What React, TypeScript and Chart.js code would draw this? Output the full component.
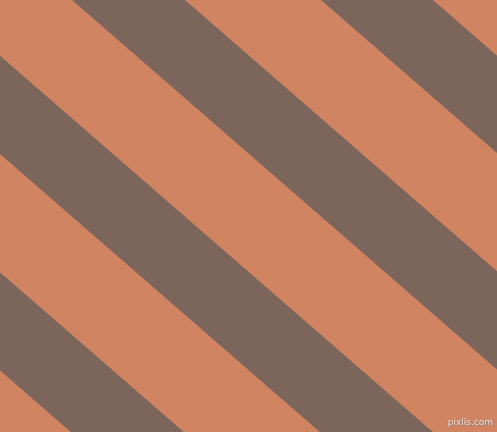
import { useEffect, useRef } from "react";
import Chart from "chart.js/auto";

// where each brown stripe meets the top edge (left and right boundary, px)
const stripeStarts = [-426, -177, 72, 321];
const stripeEnds = [-313, -64, 185, 433];
// horizontal run per 1px down
const run = 1.15;

const xEdges = [0, 497];

const salmon = "#D08462";
const brown = "#7C665C";

const boundary = (c: number) =>
  xEdges.map((x) => ({ x: x, y: (x - c) / run }));

const App = () => {
  const chartRef = useRef<HTMLCanvasElement>(null);
  useEffect(() => {
    document.body.style.margin = "0";
    const datasets: any[] = [];
    stripeStarts.forEach((s, i) => {
      datasets.push({
        data: boundary(s),
        borderWidth: 0,
        borderColor: "rgba(0,0,0,0)",
        pointRadius: 0,
        fill: false,
      });
      datasets.push({
        data: boundary(stripeEnds[i]),
        borderWidth: 0,
        borderColor: "rgba(0,0,0,0)",
        backgroundColor: brown,
        pointRadius: 0,
        fill: "-1",
      });
    });
    const chartInstance = new Chart(chartRef.current as HTMLCanvasElement, {
      type: "line",
      data: { datasets },
      options: {
        animation: false,
        responsive: false,
        layout: { padding: 0 },
        scales: {
          x: { type: "linear", display: false, min: 0, max: 497 },
          y: { type: "linear", display: false, min: 0, max: 432, reverse: true },
        },
        plugins: {
          legend: { display: false },
          tooltip: { enabled: false },
        },
      },
    });

    return () => chartInstance.destroy();
  }, []);

  return (
    <div style={{ position: "relative", width: 497, height: 432, background: salmon }}>
      <canvas ref={chartRef} width={497} height={432} />
      <div
        style={{
          position: "absolute",
          right: 4,
          bottom: 5,
          fontFamily: "'DejaVu Sans', sans-serif",
          fontSize: 9,
          color: "#eddcd3",
          textShadow: "1px 1px 0 #9a7d70, -1px 0 0 #a88472",
        }}
      >
        pixlis.com
      </div>
    </div>
  );
};

export default App;
